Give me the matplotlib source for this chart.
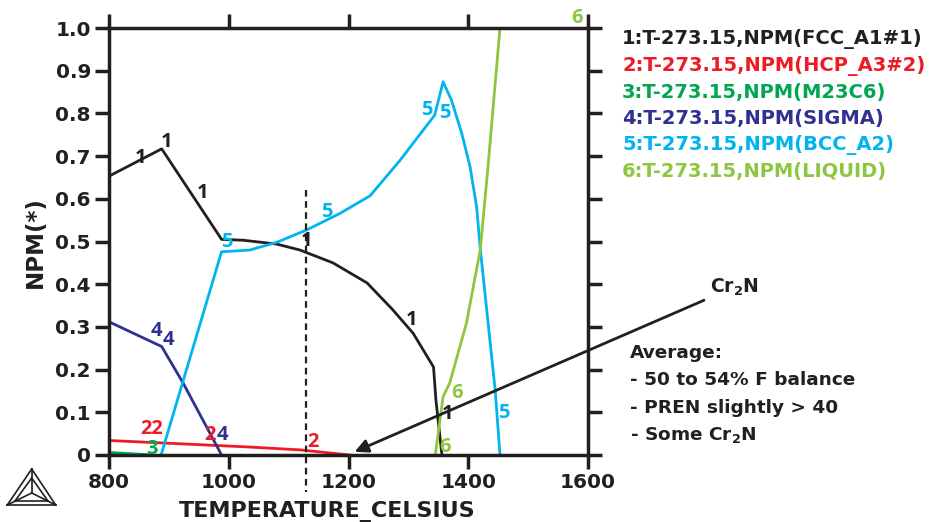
import numpy as np
import matplotlib.pyplot as plt
from matplotlib.lines import Line2D

plt.rcParams['font.family'] = ['DejaVu Sans']
plt.rcParams['font.weight'] = 'bold'

# phase curves (temperature in C, NPM)
fcc_t = [800, 888, 988, 1024, 1080, 1119, 1174, 1231, 1274, 1308, 1342, 1346, 1356]
fcc_v = [0.653, 0.717, 0.505, 0.503, 0.494, 0.48, 0.45, 0.403, 0.34, 0.285, 0.206, 0.129, 0.0]

hcp_t = [800, 1030, 1119, 1202]
hcp_v = [0.034, 0.019, 0.012, 0.0]

m23_t = [800, 873]
m23_v = [0.006, 0.0]

sig_t = [800, 888, 924, 988]
sig_v = [0.312, 0.254, 0.168, 0.0]

bcc_t = [887, 988, 1035, 1080, 1130, 1186, 1236, 1286, 1344, 1358, 1372, 1389, 1403, 1414, 1420, 1445, 1453]
bcc_v = [0.0, 0.476, 0.48, 0.498, 0.527, 0.566, 0.607, 0.69, 0.796, 0.874, 0.831, 0.754, 0.675, 0.581, 0.484, 0.152, 0.0]

liq_t = [1345, 1358, 1369, 1397, 1420, 1433, 1445, 1453]
liq_v = [0.0, 0.137, 0.168, 0.309, 0.48, 0.675, 0.87, 1.0]

colors = ['#231f20', '#ed1c24', '#00a651', '#2e3192', '#00b4ef', '#8dc63f']
legend_names = ['1:T-273.15,NPM(FCC_A1#1)', '2:T-273.15,NPM(HCP_A3#2)',
                '3:T-273.15,NPM(M23C6)', '4:T-273.15,NPM(SIGMA)',
                '5:T-273.15,NPM(BCC_A2)', '6:T-273.15,NPM(LIQUID)']

# curve number labels: (text, T, NPM, series index)
labels = [
    ('1', 852, 0.696, 0), ('1', 896, 0.734, 0), ('1', 957, 0.614, 0),
    ('1', 1130, 0.50, 0), ('1', 1305, 0.316, 0), ('1', 1366, 0.096, 0),
    ('22', 872, 0.060, 1), ('2', 968, 0.048, 1), ('2', 1141, 0.031, 1),
    ('3', 871, 0.013, 2),
    ('4', 879, 0.291, 3), ('4', 900, 0.270, 3), ('4', 990, 0.048, 3),
    ('5', 997, 0.498, 4), ('5', 1163, 0.570, 4), ('5', 1331, 0.808, 4),
    ('5', 1361, 0.80, 4), ('5', 1460, 0.098, 4),
    ('6', 1581, 1.023, 5), ('6', 1381, 0.145, 5), ('6', 1361, 0.019, 5),
]

dash_t = 1129
arrow_from = (1798, 0.365)
arrow_to = (1206, 0.005)

fig = plt.figure(figsize=(9.33, 5.22), dpi=100)
ax = fig.add_axes([109 / 933, 67 / 522, 479 / 933, 427 / 522])

series = [(fcc_t, fcc_v), (hcp_t, hcp_v), (m23_t, m23_v), (sig_t, sig_v), (bcc_t, bcc_v), (liq_t, liq_v)]
for (t, v), c in zip(series, colors):
    ax.plot(t, v, color=c, lw=2)

for txt, t, v, i in labels:
    ax.text(t, v, txt, color=colors[i], fontsize=14.5, family='Open Sans',
            ha='center', va='center', clip_on=False)

ax.plot([dash_t, dash_t], [0.62, -0.087], color='#231f20', lw=1.6, ls=(0, (3, 2)), clip_on=False)

ax.annotate('', xy=arrow_to, xytext=arrow_from, xycoords='data',
            arrowprops=dict(arrowstyle='-|>', color='#231f20', lw=2, mutation_scale=20),
            annotation_clip=False)

ax.set_xlim(800, 1600)
ax.set_ylim(0, 1.0)
ax.set_xticks([800, 1000, 1200, 1400, 1600])
ax.set_yticks(np.arange(0, 1.01, 0.1))
ax.set_yticklabels(['0'] + ['%.1f' % y for y in np.arange(0.1, 1.01, 0.1)])
ax.tick_params(direction='out', length=10, width=2.5, labelsize=14.5, colors='#231f20',
               top=True, right=True, pad=3)
for s in ax.spines.values():
    s.set_linewidth(2.5)
    s.set_color('#231f20')

fig.text(327 / 933, 1 - 511 / 522, 'TEMPERATURE_CELSIUS', fontsize=16, ha='center', va='center', color='#231f20')
fig.text(35 / 933, 1 - 242 / 522, 'NPM(*)', fontsize=16.5, ha='center', va='center', rotation=90, color='#231f20')

for k, (name, c) in enumerate(zip(legend_names, colors)):
    fig.text(622 / 933, 1 - (39 + 26.6 * k) / 522, name, fontsize=14, color=c, ha='left', va='center')

fig.text(710 / 933, 1 - 287 / 522, 'Cr$_2$N', fontsize=13.5, color='#231f20', ha='left', va='center')
notes = ['Average:', '- 50 to 54% F balance', '- PREN slightly > 40', '- Some Cr$_2$N']
for k, line in enumerate(notes):
    fig.text(630 / 933, 1 - (353 + 27.3 * k) / 522, line, fontsize=13.3, color='#231f20', ha='left', va='center')

# logo
def px(x, y):
    return x / 933, 1 - y / 522
apex, bl, br = (31.7, 469), (7.3, 505), (55.7, 505)
cen = (31.7, 493)
inner = [(31.7, 478), (15, 501), (48, 501)]
for a, b in [(apex, bl), (bl, br), (br, apex), (apex, cen), (bl, cen), (br, cen),
             (inner[0], inner[1]), (inner[1], inner[2]), (inner[2], inner[0])]:
    p, q = px(*a), px(*b)
    fig.add_artist(Line2D([p[0], q[0]], [p[1], q[1]], color='#231f20', lw=1.2))

fig.savefig('out.png', dpi=100)
